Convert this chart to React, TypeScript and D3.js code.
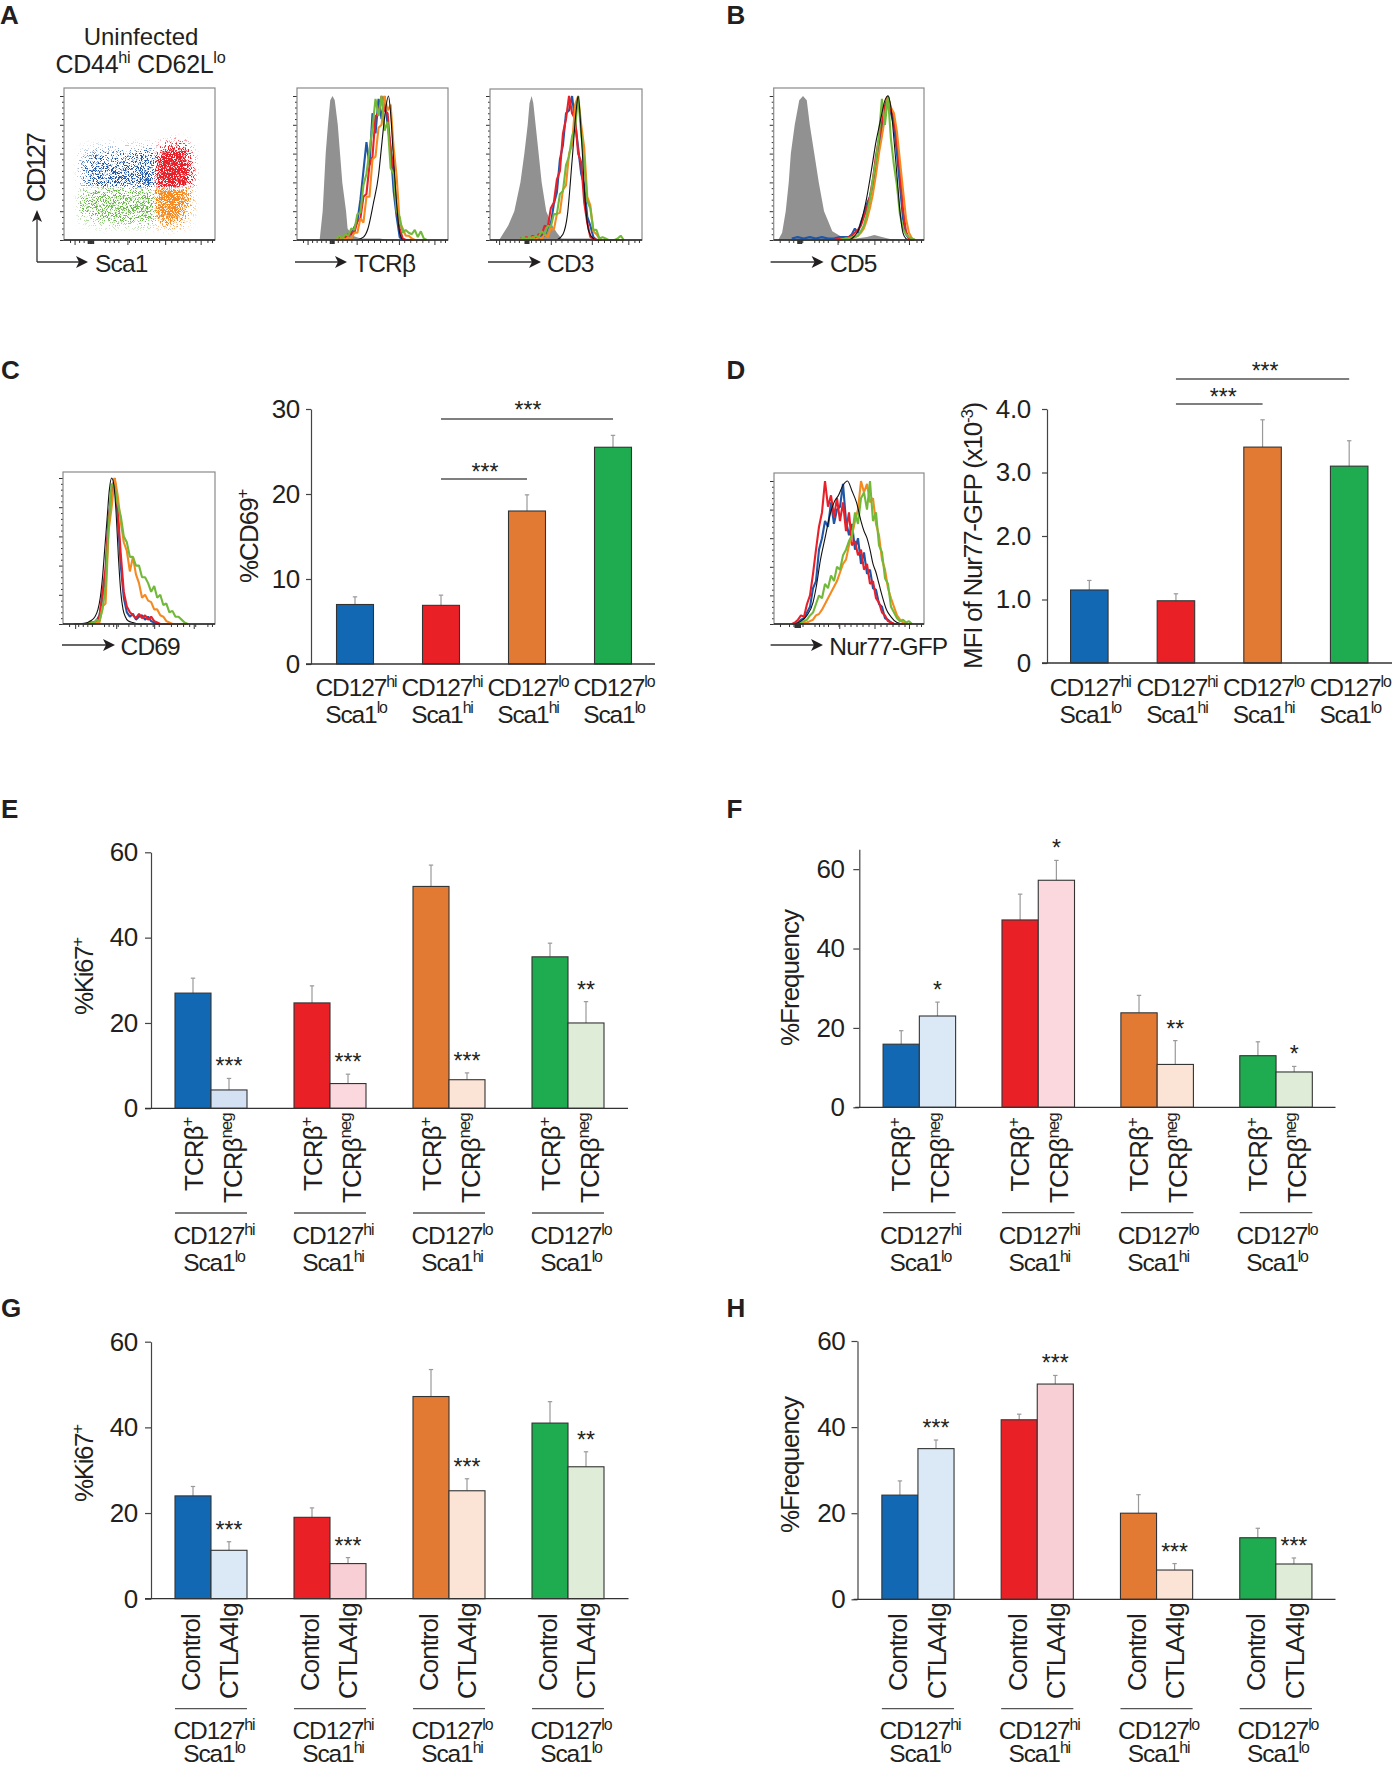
import { useEffect, useRef } from 'react';
import * as d3 from 'd3';

const W = 1392;
const H = 1767;
const FONT = '"Liberation Sans", Arial, sans-serif';
const INK = '#231f20';

// population colours, in the order the bars are drawn
const mainColors = ['#1268b3', '#e92127', '#e37a34', '#1fab4f'];
const lightE = ['#d4e1f2', '#fad8dd', '#fbe3d5', '#deecd8'];
const lightF = ['#dbe9f6', '#fad8dd', '#fbe3d5', '#deecd8'];
const lightG = ['#dbe9f6', '#f8cfd5', '#fbe3d5', '#deecd8'];
const traceColors = { blue: '#1f56a8', red: '#e8202a', orange: '#f58a20', green: '#72b93a' };

// group labels
const groupLine1 = ['CD127^{hi}', 'CD127^{hi}', 'CD127^{lo}', 'CD127^{lo}'];
const groupLine2 = ['Sca1^{lo}', 'Sca1^{hi}', 'Sca1^{hi}', 'Sca1^{lo}'];

// panel C
const cd69Values = [7, 6.9, 18, 25.5];
const cd69ErrTop = [7.9, 8.1, 19.9, 26.9];
const cd69Ticks = [0, 10, 20, 30];
const cd69TickLabels = ['0', '10', '20', '30'];

// panel D
const nur77Values = [1.15, 0.98, 3.4, 3.1];
const nur77ErrTop = [1.3, 1.09, 3.83, 3.5];
const nur77Ticks = [0, 1, 2, 3, 4];
const nur77TickLabels = ['0', '1.0', '2.0', '3.0', '4.0'];

// panels E-H
const ticks60 = [0, 20, 40, 60];
const ticks60Labels = ['0', '20', '40', '60'];
const tcrLabels = ['TCRβ^{+}', 'TCRβ^{neg}'];
const ctlaLabels = ['Control', 'CTLA4Ig'];

const eTcrPos = [27, 24.7, 52, 35.5];
const eTcrPosErr = [30.5, 28.7, 57, 38.7];
const eTcrNeg = [4.3, 5.8, 6.7, 20];
const eTcrNegErr = [7, 8, 8.3, 25];
const eStars = ['***', '***', '***', '**'];

const fTcrPos = [15.9, 47.2, 23.8, 13];
const fTcrPosErr = [19.3, 53.7, 28.2, 16.5];
const fTcrNeg = [23, 57.2, 10.8, 8.9];
const fTcrNegErr = [26.5, 62.2, 16.8, 10.3];
const fStars = ['*', '*', '**', '*'];

const gControl = [24, 19, 47.2, 41];
const gControlErr = [26.2, 21.2, 53.5, 46];
const gCtla = [11.3, 8.2, 25.2, 30.8];
const gCtlaErr = [13.3, 9.6, 28, 34.3];
const gStars = ['***', '***', '***', '**'];

const hControl = [24.2, 41.7, 20, 14.3];
const hControlErr = [27.5, 43, 24.3, 16.5];
const hCtla = [35, 50, 6.8, 8.2];
const hCtlaErr = [37, 52, 8.3, 9.6];
const hStars = ['***', '***', '***', '***'];

// flow histograms, channel (0-100 across the frame) against % of max
const tcrGray = [[15, 0], [17, 20], [18, 40], [19, 60], [20.5, 80], [22, 97], [23.5, 100], [25, 97], [27, 80], [28.5, 60], [30, 40], [32.5, 20], [33.5, 8], [37, 3], [42, 1], [55, 1], [60, 0]];
const tcrBlack = [[39.5, 0], [44, 2], [47, 8], [50.5, 25], [54, 45], [56, 65], [58, 85], [60.6, 100], [62, 88], [64, 55], [66, 25], [68, 5], [70, 0]];
const tcrX = [26, 28, 30, 32, 34, 36, 38, 40, 42, 44, 46, 48, 50, 52, 54, 56, 58, 60, 62, 64, 66, 68, 70, 72, 74, 76, 78, 80, 82, 84, 86];
const tcrBlue = [0, 1, 2, 2, 4, 4, 9, 13, 28, 48, 68, 52, 88, 74, 98, 84, 100, 80, 64, 34, 16, 2, 0, 0, 0, 0, 0, 0, 0, 0, 0];
const tcrRed = [0, 0, 1, 2, 2, 6, 5, 13, 15, 30, 32, 52, 58, 86, 88, 100, 90, 88, 62, 50, 22, 8, 1, 0, 0, 0, 0, 0, 0, 0, 0];
const tcrOrange = [1, 0, 2, 0, 2, 1, 5, 5, 15, 12, 30, 30, 56, 58, 78, 80, 100, 90, 94, 64, 44, 12, 8, 3, 3, 1, 0, 0, 0, 0, 0];
const tcrGreen = [1, 3, 1, 4, 3, 8, 7, 18, 19, 38, 46, 62, 78, 98, 86, 100, 76, 82, 50, 46, 20, 16, 5, 7, 5, 4, 7, 2, 6, 1, 0];

const cd3Gray = [[6, 0], [9, 5], [12, 10], [16, 20], [20, 40], [22.6, 60], [24.8, 80], [26, 95], [27.4, 100], [28.5, 95], [30, 80], [32, 60], [34, 40], [37, 20], [41, 10], [44, 5], [47, 1], [55, 1], [70, 1], [80, 0]];
const cd3Black = [[44, 0], [48, 4], [51, 18], [54, 55], [57, 93], [58, 100], [60, 74], [62.6, 27], [65, 6], [68, 1], [70, 0]];
const cd3X = [20, 22, 24, 26, 28, 30, 32, 34, 36, 38, 40, 42, 44, 46, 48, 50, 52, 54, 56, 58, 60, 62, 64, 66, 68, 70, 72, 74, 76, 78, 80, 82, 84, 86, 88];
const cd3Blue = [0, 0, 0, 1, 1, 3, 1, 4, 3, 9, 11, 25, 33, 56, 66, 88, 90, 100, 82, 64, 46, 38, 16, 10, 2, 0, 0, 0, 0, 0, 0, 0, 0, 0, 0];
const cd3Red = [1, 1, 2, 0, 3, 1, 4, 4, 10, 9, 22, 26, 42, 48, 74, 84, 100, 88, 84, 60, 54, 26, 12, 2, 1, 0, 0, 0, 0, 0, 0, 0, 0, 0, 0];
const cd3Orange = [0, 0, 1, 0, 2, 0, 2, 1, 4, 2, 8, 7, 18, 19, 35, 38, 60, 66, 94, 100, 80, 64, 30, 24, 6, 4, 1, 0, 0, 0, 0, 0, 0, 0, 0];
const cd3Green = [0, 2, 0, 2, 1, 3, 2, 6, 4, 10, 9, 18, 18, 32, 34, 52, 58, 72, 78, 100, 74, 54, 27, 22, 7, 7, 1, 2, 1, 0, 0, 0, 1, 3, 0];

const cd5Gray = [[3, 0], [5.6, 5], [8, 20], [10, 40], [11.4, 60], [14, 80], [17, 97], [19.5, 100], [22, 97], [24, 80], [27, 60], [30, 40], [33.5, 20], [39, 6], [44, 3], [48, 1], [55, 1], [62, 2], [67, 3.5], [72, 2], [78, 0.5], [85, 0]];
const cd5Black = [[50, 0], [52, 1], [54, 3], [56, 6], [58, 12], [60, 20], [62, 30], [64, 42], [66, 55], [68, 68], [70, 78], [72, 88], [74, 97], [76, 100], [78, 92], [80, 70], [82, 45], [84, 20], [86, 5], [88, 1], [90, 0]];
const cd5X = [12, 16, 20, 24, 28, 32, 36, 40, 44, 48, 50, 52, 54, 56, 58, 60, 62, 64, 66, 68, 70, 72, 74, 76, 78, 80, 82, 84, 86, 88, 90, 92, 94];
const cd5Blue = [1, 2, 1, 2, 1, 2, 1, 1, 2, 2, 2, 4, 8, 5, 12, 18, 25, 30, 38, 52, 65, 78, 90, 100, 88, 80, 60, 38, 15, 4, 1, 0, 0];
const cd5Red = [0, 0, 0, 0, 0, 0, 0, 0, 1, 1, 2, 3, 5, 7, 10, 16, 22, 30, 42, 58, 70, 82, 93, 100, 90, 85, 68, 48, 22, 6, 1, 0, 0];
const cd5Orange = [0, 0, 0, 0, 0, 0, 0, 0, 0, 1, 1, 1, 2, 3, 5, 8, 14, 22, 32, 45, 60, 72, 85, 100, 92, 88, 75, 55, 35, 15, 5, 1, 0];
const cd5Green = [0, 0, 0, 0, 0, 0, 0, 0, 0, 1, 1, 2, 2, 3, 6, 10, 18, 28, 42, 55, 72, 98, 80, 100, 70, 52, 38, 18, 8, 4, 2, 1, 0];

const cd69Black = [[7, 0], [14, 0.5], [18, 2], [21, 5], [23, 10], [24.5, 18], [26, 32], [27.5, 52], [29, 72], [30.5, 92], [32, 100], [33.5, 95], [35, 75], [36.5, 45], [38, 22], [39.5, 10], [41, 5], [43, 2], [46, 1], [50, 0], [55, 0]];
const cd69X = [14, 16, 18, 20, 22, 24, 26, 28, 30, 32, 34, 36, 38, 40, 42, 44, 46, 48, 50, 52, 54, 56, 58, 60, 62, 64, 66, 68, 70, 72, 74, 76, 78, 80, 82];
const cd69Blue = [0, 0, 0, 1, 2, 6, 18, 35, 70, 92, 99, 75, 40, 18, 8, 5, 7, 3, 5, 6, 3, 5, 2, 1, 0, 0, 0, 0, 0, 0, 0, 0, 0, 0, 0];
const cd69Red = [0, 0, 1, 1, 2, 5, 22, 38, 72, 88, 100, 78, 48, 22, 12, 8, 6, 4, 7, 4, 6, 3, 5, 2, 1, 0, 0, 0, 0, 0, 0, 0, 0, 0, 0];
const cd69Orange = [0, 0, 0, 1, 1, 1, 12, 14, 64, 80, 100, 88, 70, 56, 50, 36, 46, 34, 28, 18, 20, 16, 15, 10, 10, 6, 5, 2, 1, 0, 0, 0, 0, 0, 0];
const cd69Green = [0, 0, 2, 0, 3, 2, 10, 26, 66, 96, 94, 82, 74, 60, 56, 46, 46, 40, 40, 32, 32, 28, 22, 26, 18, 20, 13, 14, 8, 9, 5, 5, 3, 1, 0];

const gfpBlack = [[14, 0], [18, 2], [22, 6], [26, 15], [28, 25], [31, 45], [34, 60], [37, 75], [40, 85], [43, 90], [46, 97], [49, 100], [52, 93], [55, 85], [58, 72], [60, 65], [62, 60], [64, 52], [66, 42], [68, 36], [70, 28], [72, 20], [75, 10], [78, 5], [82, 1], [86, 0]];
const gfpX = [12, 14, 16, 18, 20, 22, 24, 26, 28, 30, 32, 34, 36, 38, 40, 42, 44, 46, 48, 50, 52, 54, 56, 58, 60, 62, 64, 66, 68, 70, 72, 74, 76, 78, 80, 82, 84, 86, 88, 90, 92];
const gfpBlue = [0, 0, 1, 3, 4, 8, 12, 25, 30, 52, 60, 72, 68, 85, 70, 80, 82, 98, 72, 62, 70, 52, 60, 42, 50, 35, 38, 25, 24, 14, 12, 4, 3, 1, 0, 0, 0, 0, 0, 0, 0];
const gfpRed = [0, 1, 3, 6, 5, 14, 20, 35, 52, 68, 78, 100, 82, 90, 75, 88, 72, 85, 65, 78, 55, 58, 48, 52, 38, 42, 28, 30, 18, 15, 8, 6, 2, 1, 0, 0, 0, 0, 0, 0, 0];
const gfpOrange = [0, 0, 0, 0, 1, 1, 2, 3, 6, 7, 10, 14, 18, 22, 26, 30, 36, 42, 45, 55, 62, 72, 80, 100, 92, 98, 85, 88, 70, 62, 45, 38, 25, 18, 12, 6, 3, 1, 0, 0, 0];
const gfpGreen = [0, 0, 0, 1, 2, 3, 6, 8, 14, 20, 18, 28, 25, 34, 30, 40, 38, 48, 52, 58, 62, 78, 70, 88, 92, 80, 100, 72, 78, 55, 50, 32, 28, 12, 8, 4, 2, 3, 1, 2, 0];

// tick positions on the flow plots, same channel units
const histMinorTicks = [4, 10, 13, 16, 19, 27, 30, 33, 36, 43, 47, 51, 55, 59, 63, 71, 75, 79, 83, 87, 95, 98];
const countTicks = [0, 20, 40, 60, 80, 100];
const countMinorTicks = [4, 8, 12, 16, 24, 28, 32, 36, 44, 48, 52, 56, 64, 68, 72, 76, 84, 88, 92, 96];

// dot plot of panel A, density of events read per gate (0 sparse, 1 solid)
const blueDensity = [
  [0.05, 0.1, 0.12, 0.12, 0.12, 0.2],
  [0.2, 0.35, 0.35, 0.4, 0.4, 0.5],
  [0.3, 0.45, 0.45, 0.45, 0.45, 0.55],
  [0.3, 0.5, 0.5, 0.5, 0.5, 0.6],
  [0.25, 0.5, 0.55, 0.55, 0.55, 0.7],
];
const redDensity = [
  [0.1, 0.3, 0.45, 0.35, 0.1],
  [0.6, 0.9, 1, 0.9, 0.35],
  [0.85, 1, 1, 1, 0.45],
  [0.9, 1, 1, 1, 0.5],
  [0.9, 1, 1, 1, 0.5],
];
const orangeDensity = [
  [0.9, 1, 1, 0.85, 0.35],
  [0.85, 0.95, 0.95, 0.8, 0.3],
  [0.8, 0.9, 0.9, 0.7, 0.25],
  [0.6, 0.8, 0.8, 0.55, 0.15],
  [0.2, 0.35, 0.35, 0.2, 0.05],
];
const greenDensity = [
  [0.3, 0.45, 0.45, 0.45, 0.45, 0.5],
  [0.4, 0.5, 0.5, 0.5, 0.5, 0.55],
  [0.4, 0.55, 0.5, 0.5, 0.55, 0.55],
  [0.25, 0.4, 0.45, 0.45, 0.45, 0.5],
  [0.05, 0.12, 0.15, 0.15, 0.15, 0.2],
];

type Sel = d3.Selection<any, unknown, null, undefined>;

interface TextOpts {
  x: number;
  y: number;
  text: string;
  size?: number;
  anchor?: string;
  rotate?: number;
  spacing?: number;
  weight?: string;
}

// writes text, a ^{..} part goes up as a superscript
function addText(parent: Sel, o: TextOpts) {
  const size = o.size ?? 24;
  const t = parent
    .append('text')
    .attr('transform', `translate(${o.x},${o.y}) rotate(${o.rotate ?? 0})`)
    .attr('text-anchor', o.anchor ?? 'start')
    .attr('font-family', FONT)
    .attr('font-weight', o.weight ?? 'normal')
    .attr('fill', INK)
    .style('letter-spacing', `${o.spacing ?? 0}px`);
  let shift = 0;
  o.text.split(/\^\{(.*?)\}/).forEach((chunk, i) => {
    if (!chunk) return;
    const sup = i % 2 === 1;
    const target = sup ? -size * 0.38 : 0;
    t.append('tspan')
      .attr('dy', target - shift)
      .attr('font-size', sup ? size * 0.65 : size)
      .text(chunk);
    shift = target;
  });
}

function addArrow(svg: Sel, x0: number, x1: number, y: number) {
  svg.append('line').attr('x1', x0).attr('x2', x1 - 6).attr('y1', y).attr('y2', y).attr('stroke', '#333').attr('stroke-width', 1.3);
  const head = d3.path();
  head.moveTo(x1, y);
  head.lineTo(x1 - 12, y - 6);
  head.lineTo(x1 - 9, y);
  head.lineTo(x1 - 12, y + 6);
  head.closePath();
  svg.append('path').attr('d', head.toString()).attr('fill', INK);
}

interface FrameBox {
  x0: number;
  x1: number;
  top: number;
  base: number;
}

function addFrameTicks(svg: Sel, box: FrameBox, x: d3.ScaleLinear<number, number>, y: d3.ScaleLinear<number, number>, xMajor: number[], clump: number[]) {
  const bottom = svg.append('g').attr('transform', `translate(0,${box.base})`);
  bottom.call(d3.axisBottom(x).tickValues(histMinorTicks).tickSize(3).tickFormat(() => '').tickSizeOuter(0));
  const major = svg.append('g').attr('transform', `translate(0,${box.base})`);
  major.call(d3.axisBottom(x).tickValues(xMajor).tickSize(5).tickFormat(() => '').tickSizeOuter(0));
  const blob = svg.append('g').attr('transform', `translate(0,${box.base})`);
  blob.call(d3.axisBottom(x).tickValues(clump).tickSize(4).tickFormat(() => '').tickSizeOuter(0));
  blob.selectAll('.tick line').attr('stroke-width', 2);
  const leftMinor = svg.append('g').attr('transform', `translate(${box.x0},0)`);
  leftMinor.call(d3.axisLeft(y).tickValues(countMinorTicks).tickSize(2).tickFormat(() => '').tickSizeOuter(0));
  const left = svg.append('g').attr('transform', `translate(${box.x0},0)`);
  left.call(d3.axisLeft(y).tickValues(countTicks).tickSize(4).tickFormat(() => '').tickSizeOuter(0));
  [bottom, major, blob, leftMinor, left].forEach((g) => {
    g.select('.domain').remove();
    g.selectAll('.tick line').attr('stroke', '#333');
  });
  svg.append('rect').attr('x', box.x0).attr('y', box.top).attr('width', box.x1 - box.x0).attr('height', box.base - box.top).attr('fill', 'none').attr('stroke', '#8a8a8a').attr('stroke-width', 1.2);
  svg.append('line').attr('x1', box.x0).attr('x2', box.x1).attr('y1', box.base).attr('y2', box.base).attr('stroke', '#222').attr('stroke-width', 1.3);
}

interface HistConfig {
  box: FrameBox;
  peakY: number;
  gray?: number[][];
  black: number[][];
  xs: number[];
  blue: number[];
  red: number[];
  orange: number[];
  green: number[];
  xMajor: number[];
  clump: number[];
}

function drawHist(svg: Sel, c: HistConfig) {
  const x = d3.scaleLinear().domain([0, 100]).range([c.box.x0, c.box.x1]);
  const y = d3.scaleLinear().domain([0, 100]).range([c.box.base, c.peakY]);
  if (c.gray) {
    const area = d3.area<number[]>().x((d) => x(d[0])).y0(y(0)).y1((d) => y(d[1]));
    svg.append('path').attr('d', area(c.gray)).attr('fill', '#919191');
  }
  const trace = d3.line<number>().x((_, i) => x(c.xs[i])).y((d) => y(d));
  const traces: [number[], string][] = [
    [c.blue, traceColors.blue],
    [c.red, traceColors.red],
    [c.orange, traceColors.orange],
    [c.green, traceColors.green],
  ];
  traces.forEach(([values, color]) => {
    svg.append('path').attr('d', trace(values)).attr('fill', 'none').attr('stroke', color).attr('stroke-width', 2.1).attr('stroke-linejoin', 'bevel');
  });
  const blackLine = d3.line<number[]>().x((d) => x(d[0])).y((d) => y(d[1])).curve(d3.curveMonotoneX);
  svg.append('path').attr('d', blackLine(c.black)).attr('fill', 'none').attr('stroke', '#111').attr('stroke-width', 1.1);
  addFrameTicks(svg, c.box, x, y, c.xMajor, c.clump);
}

function drawDots(svg: Sel) {
  const box: FrameBox = { x0: 64, x1: 215, top: 88, base: 240 };
  const x = d3.scaleLinear().domain([0, 100]).range([box.x0, box.x1]);
  const y = d3.scaleLinear().domain([0, 100]).range([box.top, box.base]);
  const defs = svg.append('defs');
  const xSplit = 60;
  const ySplit = 65.5;
  const gates = [
    { name: 'blue', color: traceColors.blue, cells: blueDensity, xr: [10, xSplit], yr: [36, ySplit], clip: [0, xSplit, 0, ySplit] },
    { name: 'red', color: traceColors.red, cells: redDensity, xr: [xSplit, 86], yr: [34, ySplit], clip: [xSplit, 100, 0, ySplit] },
    { name: 'orange', color: traceColors.orange, cells: orangeDensity, xr: [xSplit, 86], yr: [ySplit, 93], clip: [xSplit, 100, ySplit, 100] },
    { name: 'green', color: '#67b845', cells: greenDensity, xr: [10, xSplit], yr: [ySplit, 93], clip: [0, xSplit, ySplit, 100] },
  ];
  gates.forEach((gate, k) => {
    // speckle: the density field is thresholded against turbulence
    const f = defs.append('filter').attr('id', `speckle-${gate.name}`).attr('filterUnits', 'userSpaceOnUse')
      .attr('x', box.x0).attr('y', box.top).attr('width', box.x1 - box.x0).attr('height', box.base - box.top)
      .attr('color-interpolation-filters', 'sRGB');
    f.append('feGaussianBlur').attr('in', 'SourceAlpha').attr('stdDeviation', 3).attr('result', 'field');
    f.append('feTurbulence').attr('type', 'fractalNoise').attr('baseFrequency', 1.4).attr('numOctaves', 1).attr('seed', k + 2).attr('result', 'noise');
    f.append('feColorMatrix').attr('in', 'noise').attr('type', 'matrix')
      .attr('values', '0 0 0 0 0  0 0 0 0 0  0 0 0 0 0  3.4 0 0 0 -1.2').attr('result', 'grain');
    f.append('feComposite').attr('in', 'field').attr('in2', 'grain').attr('operator', 'arithmetic')
      .attr('k1', 0).attr('k2', 3).attr('k3', 3).attr('k4', -3).attr('result', 'mask');
    f.append('feFlood').attr('flood-color', gate.color).attr('result', 'ink');
    f.append('feComposite').attr('in', 'ink').attr('in2', 'mask').attr('operator', 'in');

    defs.append('clipPath').attr('id', `gate-${gate.name}`).append('rect')
      .attr('x', x(gate.clip[0])).attr('y', y(gate.clip[2]))
      .attr('width', x(gate.clip[1]) - x(gate.clip[0])).attr('height', y(gate.clip[3]) - y(gate.clip[2]));

    const cols = d3.scaleBand<number>().domain(d3.range(gate.cells[0].length)).range([x(gate.xr[0]), x(gate.xr[1])]);
    const rows = d3.scaleBand<number>().domain(d3.range(gate.cells.length)).range([y(gate.yr[0]), y(gate.yr[1])]);
    const g = svg.append('g').attr('clip-path', `url(#gate-${gate.name})`).append('g').attr('filter', `url(#speckle-${gate.name})`);
    gate.cells.forEach((row, r) => {
      g.selectAll(`rect.r${r}`).data(row).enter().append('rect').attr('class', `r${r}`)
        .attr('x', (_, i) => cols(i) as number).attr('y', rows(r) as number)
        .attr('width', cols.bandwidth() + 0.5).attr('height', rows.bandwidth() + 0.5)
        .attr('fill', '#000').attr('fill-opacity', (d) => d);
    });
  });
  addFrameTicks(svg, box, x, d3.scaleLinear().domain([0, 100]).range([box.base, box.top + 8]), [7, 42, 67, 90.5], [16, 17, 18, 19]);
}

interface BarConfig {
  axisX: number;
  bandX0: number;
  bandX1: number;
  base: number;
  top: number;
  yMax: number;
  barFrac: number;
  baseX0: number;
  baseX1: number;
  ticks: number[];
  tickLabels: string[];
  tickSize: number;
  tickPad: number;
  series: { values: number[]; errTop: number[]; colors: string[] }[];
  stars?: string[];
  barLabels?: string[];
  barLabelX?: number[];
  barLabelY?: number[];
  ruleY?: number;
  line1Y: number;
  line2Y: number;
  labelShift: number;
  yLabel: string;
  yLabelX: number;
  yLabelY: number;
  yLabelSpacing?: number;
  brackets?: { from: number; to: number; y: number; starY: number; shift: number }[];
}

function drawBars(svg: Sel, c: BarConfig) {
  const groups = d3.range(groupLine1.length);
  const y = d3.scaleLinear().domain([0, c.yMax]).range([c.base, c.top]);
  const pad = 1 - c.barFrac;
  const x = d3.scaleBand<number>().domain(groups).range([c.bandX0, c.bandX1]).paddingInner(pad).paddingOuter(pad / 2);
  const inner = d3.scaleBand<number>().domain(d3.range(c.series.length)).range([0, x.bandwidth()]);

  const axis = svg.append('g').attr('transform', `translate(${c.axisX},0)`);
  axis.call(
    d3.axisLeft(y)
      .tickValues(c.ticks)
      .tickFormat((_, i) => c.tickLabels[i])
      .tickSize(c.tickSize)
      .tickPadding(c.tickPad)
      .tickSizeOuter(0),
  );
  axis.selectAll('.domain, .tick line').attr('stroke', '#444').attr('stroke-width', 1.2);
  axis.selectAll('.tick text').attr('font-family', FONT).attr('font-size', 26).attr('fill', INK).style('letter-spacing', '-0.3px');

  c.series.forEach((s, si) => {
    const cx = (g: number) => (x(g) as number) + (inner(si) as number) + inner.bandwidth() / 2;
    svg.append('g').selectAll('line').data(s.errTop).enter().append('line')
      .attr('x1', (_, g) => cx(g)).attr('x2', (_, g) => cx(g))
      .attr('y1', (_, g) => y(s.values[g])).attr('y2', (d) => y(d))
      .attr('stroke', '#999').attr('stroke-width', 1.2);
    svg.append('g').selectAll('line').data(s.errTop).enter().append('line')
      .attr('x1', (_, g) => cx(g) - 2.2).attr('x2', (_, g) => cx(g) + 2.2)
      .attr('y1', (d) => y(d)).attr('y2', (d) => y(d))
      .attr('stroke', '#999').attr('stroke-width', 1.2);
    svg.append('g').selectAll('rect').data(s.values).enter().append('rect')
      .attr('x', (_, g) => (x(g) as number) + (inner(si) as number))
      .attr('y', (d) => y(d))
      .attr('width', inner.bandwidth())
      .attr('height', (d) => y(0) - y(d))
      .attr('fill', (_, g) => s.colors[g])
      .attr('stroke', '#333')
      .attr('stroke-width', 1.1);
  });

  svg.append('line').attr('x1', c.baseX0).attr('x2', c.baseX1).attr('y1', y(0)).attr('y2', y(0)).attr('stroke', '#333').attr('stroke-width', 1.3);

  groups.forEach((g) => {
    const center = (x(g) as number) + x.bandwidth() / 2;
    addText(svg, { x: center + c.labelShift, y: c.line1Y, text: groupLine1[g], anchor: 'middle', size: 24.5, spacing: -1.1 });
    addText(svg, { x: center + c.labelShift, y: c.line2Y, text: groupLine2[g], anchor: 'middle', size: 24.5, spacing: -1.1 });
    if (c.ruleY !== undefined) {
      svg.append('line').attr('x1', x(g) as number).attr('x2', (x(g) as number) + x.bandwidth()).attr('y1', c.ruleY).attr('y2', c.ruleY).attr('stroke', '#555').attr('stroke-width', 1.3);
    }
    if (c.barLabels && c.barLabelX && c.barLabelY) {
      c.barLabels.forEach((label, si) => {
        const bx = (x(g) as number) + (inner(si) as number) + inner.bandwidth() / 2;
        addText(svg, { x: bx + c.barLabelX![si], y: c.barLabelY![si], text: label, rotate: -90, size: 26, spacing: -1 });
      });
    }
    if (c.stars) {
      const s = c.series[1];
      const bx = (x(g) as number) + (inner(1) as number) + inner.bandwidth() / 2;
      addText(svg, { x: bx, y: y(s.errTop[g]) - 17 + 13, text: c.stars[g], anchor: 'middle', size: 23 });
    }
  });

  if (c.brackets) {
    c.brackets.forEach((b) => {
      const x0 = (x(b.from) as number) + x.bandwidth() / 2;
      const x1 = (x(b.to) as number) + x.bandwidth() / 2;
      svg.append('line').attr('x1', x0).attr('x2', x1).attr('y1', b.y).attr('y2', b.y).attr('stroke', '#555').attr('stroke-width', 1.3);
      addText(svg, { x: (x0 + x1) / 2 + b.shift, y: b.starY + 13, text: '***', anchor: 'middle', size: 23 });
    });
  }

  addText(svg, { x: c.yLabelX, y: c.yLabelY, text: c.yLabel, rotate: -90, size: 26, spacing: c.yLabelSpacing ?? -1 });
}

export default function App() {
  const svgRef = useRef<SVGSVGElement>(null);

  useEffect(() => {
    if (!svgRef.current) return;
    const svg = d3.select(svgRef.current) as unknown as Sel;
    svg.selectAll('*').remove();

    const letters: [string, number, number][] = [
      ['A', 0, 24], ['B', 726.5, 24], ['C', 1, 379], ['D', 726.5, 379],
      ['E', 1, 818], ['F', 726.5, 818], ['G', 1, 1317], ['H', 726.5, 1317],
    ];
    letters.forEach(([t, x, y]) => addText(svg, { x, y, text: t, size: 26, weight: 'bold' }));

    // panel A
    addText(svg, { x: 141, y: 45, text: 'Uninfected', anchor: 'middle', size: 24 });
    addText(svg, { x: 140.5, y: 72.5, text: 'CD44^{hi} CD62L^{lo}', anchor: 'middle', size: 25, spacing: -0.3 });
    drawDots(svg);
    addText(svg, { x: 44.5, y: 202, text: 'CD127', rotate: -90, size: 25.5, spacing: -2.4 });
    svg.append('line').attr('x1', 37).attr('x2', 37).attr('y1', 262).attr('y2', 216).attr('stroke', '#333').attr('stroke-width', 1.3);
    const up = d3.path();
    up.moveTo(37, 210);
    up.lineTo(32, 222);
    up.lineTo(37, 219);
    up.lineTo(42, 222);
    up.closePath();
    svg.append('path').attr('d', up.toString()).attr('fill', INK);
    addArrow(svg, 37, 88, 262);
    addText(svg, { x: 95, y: 272, text: 'Sca1', size: 24.5, spacing: -0.8 });

    drawHist(svg, { box: { x0: 297, x1: 448, top: 88, base: 240 }, peakY: 96, gray: tcrGray, black: tcrBlack, xs: tcrX, blue: tcrBlue, red: tcrRed, orange: tcrOrange, green: tcrGreen, xMajor: [7, 39.5, 67.5, 91], clump: [22, 23, 24] });
    addArrow(svg, 295, 347, 262);
    addText(svg, { x: 354, y: 272, text: 'TCRβ', size: 24.5, spacing: -0.8 });

    drawHist(svg, { box: { x0: 490, x1: 642, top: 89, base: 240 }, peakY: 96, gray: cd3Gray, black: cd3Black, xs: cd3X, blue: cd3Blue, red: cd3Red, orange: cd3Orange, green: cd3Green, xMajor: [6, 40, 67, 91], clump: [23, 24, 25] });
    addArrow(svg, 488, 541, 262);
    addText(svg, { x: 547, y: 272, text: 'CD3', size: 24.5, spacing: -0.8 });

    // panel B
    drawHist(svg, { box: { x0: 773.7, x1: 924, top: 88, base: 240 }, peakY: 96, gray: cd5Gray, black: cd5Black, xs: cd5X, blue: cd5Blue, red: cd5Red, orange: cd5Orange, green: cd5Green, xMajor: [42.5, 67, 90], clump: [16, 17, 18] });
    addArrow(svg, 770.6, 823.6, 262);
    addText(svg, { x: 830, y: 272, text: 'CD5', size: 24.5, spacing: -0.8 });

    // panel C
    drawHist(svg, { box: { x0: 63, x1: 215, top: 472, base: 624 }, peakY: 478, black: cd69Black, xs: cd69X, blue: cd69Blue, red: cd69Red, orange: cd69Orange, green: cd69Green, xMajor: [8, 35, 60, 86], clump: [] });
    addArrow(svg, 62, 115, 645);
    addText(svg, { x: 120.5, y: 655, text: 'CD69', size: 24.5, spacing: -0.8 });
    drawBars(svg, {
      axisX: 311, bandX0: 312, bandX1: 656, base: 664, top: 409, yMax: 30, barFrac: 0.43,
      baseX0: 306, baseX1: 655, ticks: cd69Ticks, tickLabels: cd69TickLabels, tickSize: 5, tickPad: 6,
      series: [{ values: cd69Values, errTop: cd69ErrTop, colors: mainColors }],
      line1Y: 696, line2Y: 722.5, labelShift: 1,
      yLabel: '%CD69^{+}', yLabelX: 258, yLabelY: 583,
      brackets: [
        { from: 1, to: 3, y: 419, starY: 405, shift: 1 },
        { from: 1, to: 2, y: 479, starY: 467, shift: 1 },
      ],
    });

    // panel D
    drawHist(svg, { box: { x0: 774, x1: 924, top: 473, base: 624 }, peakY: 481, black: gfpBlack, xs: gfpX, blue: gfpBlue, red: gfpRed, orange: gfpOrange, green: gfpGreen, xMajor: [43.5, 67, 90], clump: [14, 15, 16, 17] });
    addArrow(svg, 770.6, 823, 645);
    addText(svg, { x: 829.3, y: 655, text: 'Nur77-GFP', size: 24.5, spacing: -0.8 });
    drawBars(svg, {
      axisX: 1047, bandX0: 1046, bandX1: 1392.5, base: 663, top: 409, yMax: 4, barFrac: 0.433,
      baseX0: 1042, baseX1: 1392, ticks: nur77Ticks, tickLabels: nur77TickLabels, tickSize: 5, tickPad: 11,
      series: [{ values: nur77Values, errTop: nur77ErrTop, colors: mainColors }],
      line1Y: 696, line2Y: 722.5, labelShift: 1,
      yLabel: 'MFI of Nur77-GFP (x10^{-3})', yLabelX: 982.4, yLabelY: 669, yLabelSpacing: -1.2,
      brackets: [
        { from: 1, to: 3, y: 379, starY: 366, shift: 2.5 },
        { from: 1, to: 2, y: 404, starY: 392, shift: 4 },
      ],
    });

    // panel E
    drawBars(svg, {
      axisX: 151, bandX0: 151.5, bandX1: 627.5, base: 1108.3, top: 852.3, yMax: 60, barFrac: 0.605,
      baseX0: 145, baseX1: 628, ticks: ticks60, tickLabels: ticks60Labels, tickSize: 6, tickPad: 7,
      series: [
        { values: eTcrPos, errTop: eTcrPosErr, colors: mainColors },
        { values: eTcrNeg, errTop: eTcrNegErr, colors: lightE },
      ],
      stars: eStars, barLabels: tcrLabels, barLabelX: [10, 13], barLabelY: [1191, 1203],
      ruleY: 1213, line1Y: 1244, line2Y: 1271, labelShift: 3,
      yLabel: '%Ki67^{+}', yLabelX: 93, yLabelY: 1015, yLabelSpacing: -1.4,
    });

    // panel F
    drawBars(svg, {
      axisX: 859.3, bandX0: 859.9, bandX1: 1335.5, base: 1107.3, top: 849.3, yMax: 65, barFrac: 0.61,
      baseX0: 855.3, baseX1: 1335.5, ticks: ticks60, tickLabels: ticks60Labels, tickSize: 6, tickPad: 8.6,
      series: [
        { values: fTcrPos, errTop: fTcrPosErr, colors: mainColors },
        { values: fTcrNeg, errTop: fTcrNegErr, colors: lightF },
      ],
      stars: fStars, barLabels: tcrLabels, barLabelX: [8.6, 12], barLabelY: [1191.5, 1203],
      ruleY: 1212.7, line1Y: 1244, line2Y: 1271, labelShift: 1,
      yLabel: '%Frequency', yLabelX: 799, yLabelY: 1046, yLabelSpacing: -1,
    });

    // panel G
    drawBars(svg, {
      axisX: 151, bandX0: 151.5, bandX1: 627.5, base: 1598.7, top: 1341.7, yMax: 60, barFrac: 0.605,
      baseX0: 145, baseX1: 628.5, ticks: ticks60, tickLabels: ticks60Labels, tickSize: 6, tickPad: 7,
      series: [
        { values: gControl, errTop: gControlErr, colors: mainColors },
        { values: gCtla, errTop: gCtlaErr, colors: lightG },
      ],
      stars: gStars, barLabels: ctlaLabels, barLabelX: [6.5, 9], barLabelY: [1691, 1699],
      ruleY: 1708.7, line1Y: 1739, line2Y: 1762, labelShift: 3,
      yLabel: '%Ki67^{+}', yLabelX: 93, yLabelY: 1502, yLabelSpacing: -1.4,
    });

    // panel H
    drawBars(svg, {
      axisX: 857.5, bandX0: 858.3, bandX1: 1335.5, base: 1599.3, top: 1341, yMax: 60, barFrac: 0.605,
      baseX0: 853.6, baseX1: 1335.5, ticks: ticks60, tickLabels: ticks60Labels, tickSize: 6, tickPad: 6,
      series: [
        { values: hControl, errTop: hControlErr, colors: mainColors },
        { values: hCtla, errTop: hCtlaErr, colors: lightG },
      ],
      stars: hStars, barLabels: ctlaLabels, barLabelX: [7.4, 9.8], barLabelY: [1691, 1699],
      ruleY: 1708.7, line1Y: 1739, line2Y: 1762, labelShift: 2,
      yLabel: '%Frequency', yLabelX: 799, yLabelY: 1533, yLabelSpacing: -1,
    });
  }, []);

  return (
    <svg
      ref={svgRef}
      width={W}
      height={H}
      viewBox={`0 0 ${W} ${H}`}
      style={{ position: 'absolute', left: 0, top: 0, display: 'block', background: '#fff' }}
    />
  );
}
